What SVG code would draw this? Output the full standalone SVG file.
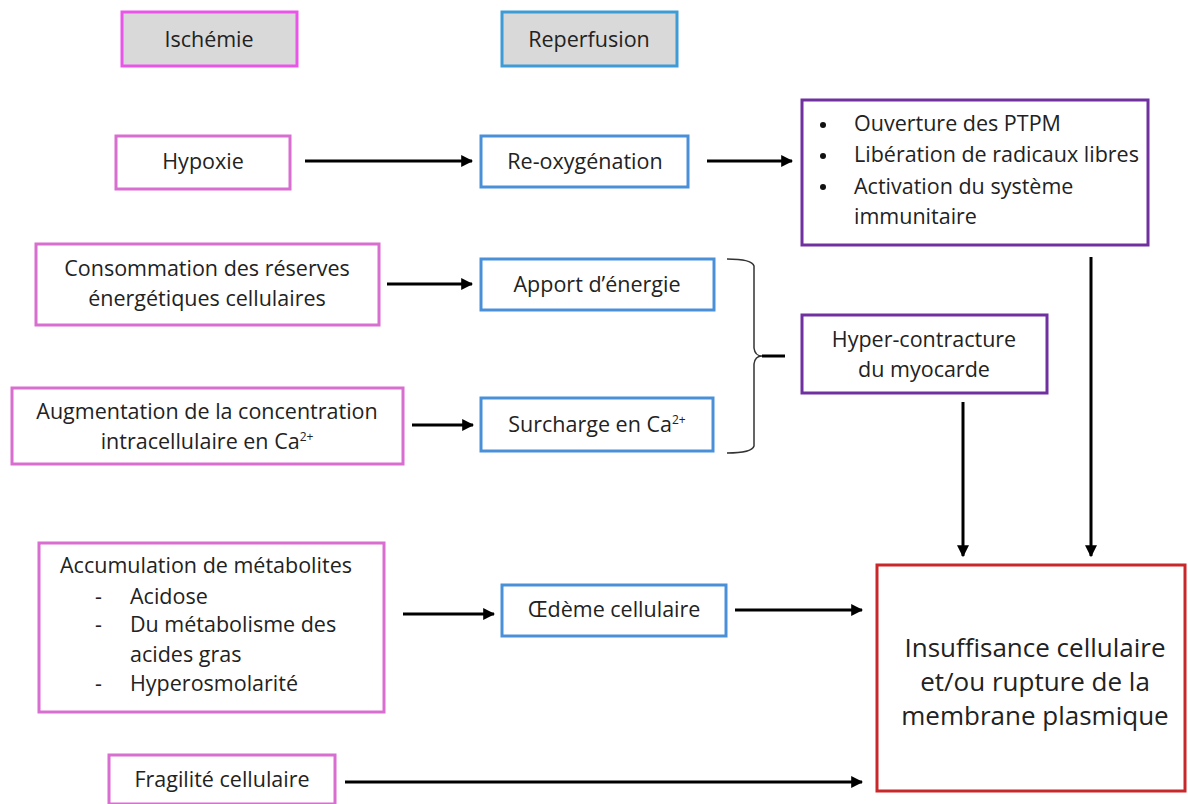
<svg xmlns="http://www.w3.org/2000/svg" width="1188" height="804" viewBox="0 0 1188 804">
<defs>
<marker id="ah" viewBox="0 0 10 10" refX="9" refY="5" markerWidth="4" markerHeight="4" orient="auto" markerUnits="strokeWidth">
<path d="M0,0 L10,5 L0,10 z" fill="#000"/>
</marker>
<style>
text{font-family:"Open Sans","Liberation Sans",sans-serif;font-size:21.5px;fill:#222}
.c{text-anchor:middle}
.big{font-size:26px}
.isch{fill:#fff;stroke:#d86fd0;stroke-width:3}
.rep{fill:#fff;stroke:#4a90d9;stroke-width:3}
.pur{fill:#fff;stroke:#7030a0;stroke-width:3}
.red{fill:#fff;stroke:#c8282a;stroke-width:3}
.hdr{fill:#d9d9d9}
.conn line{stroke:#000;stroke-width:3}
.conn .a{marker-end:url(#ah)}
</style>
</defs>
<rect width="1188" height="804" fill="#fff"/>

<g id="ischemie"><rect class="hdr" x="122" y="12" width="175" height="54" stroke="#e955e9" stroke-width="3"/><text class="c" x="209" y="47">Ischémie</text></g>
<g id="reperfusion"><rect class="hdr" x="502" y="12" width="175" height="54" stroke="#3d9bd6" stroke-width="3"/><text class="c" x="589" y="47">Reperfusion</text></g>

<g id="hypoxie"><rect class="isch" x="116" y="136" width="174" height="53"/><text class="c" x="203" y="169">Hypoxie</text></g>
<g id="reoxygenation"><rect class="rep" x="481" y="136" width="207" height="51"/><text class="c" x="585" y="169">Re-oxygénation</text></g>
<g id="effets"><rect class="pur" x="802" y="100" width="346" height="145"/>
<circle cx="823" cy="125" r="3" fill="#111"/><circle cx="823" cy="156" r="3" fill="#111"/><circle cx="823" cy="187" r="3" fill="#111"/>
<text x="854" y="131">Ouverture des PTPM</text>
<text x="854" y="162">Libération de radicaux libres</text>
<text x="854" y="194">Activation du système</text>
<text x="854" y="224">immunitaire</text></g>

<g id="consommation"><rect class="isch" x="36" y="244" width="343" height="81"/><text class="c" x="207" y="276">Consommation des réserves</text><text class="c" x="207" y="306">énergétiques cellulaires</text></g>
<g id="apport"><rect class="rep" x="481" y="259" width="233" height="51"/><text class="c" x="597" y="292">Apport d’énergie</text></g>
<g id="augmentation"><rect class="isch" x="12" y="388" width="391" height="76"/><text class="c" x="207" y="419">Augmentation de la concentration</text><text class="c" x="207" y="449">intracellulaire en Ca<tspan font-size="12" dy="-8">2+</tspan></text></g>
<g id="surcharge"><rect class="rep" x="481" y="398" width="232" height="53"/><text class="c" x="597" y="432">Surcharge en Ca<tspan font-size="12" dy="-8">2+</tspan></text></g>
<g id="hypercontracture"><rect class="pur" x="802" y="315" width="245" height="78"/><text class="c" x="924" y="347">Hyper-contracture</text><text class="c" x="924" y="377">du myocarde</text></g>

<g id="accumulation"><rect class="isch" x="39" y="543" width="345" height="169"/>
<text x="60" y="573">Accumulation de métabolites</text>
<text x="95" y="604">-</text><text x="130" y="604">Acidose</text>
<text x="95" y="632">-</text><text x="130" y="632">Du métabolisme des</text>
<text x="130" y="662">acides gras</text>
<text x="95" y="691">-</text><text x="130" y="691">Hyperosmolarité</text></g>
<g id="oedeme"><rect class="rep" x="502" y="585" width="224" height="51"/><text class="c" x="614" y="617">Œdème cellulaire</text></g>
<g id="fragilite"><rect class="isch" x="109" y="755" width="226" height="49"/><text class="c" x="222" y="787">Fragilité cellulaire</text></g>
<g id="insuffisance"><rect class="red" x="877" y="565" width="308" height="226"/>
<text class="c big" x="1035" y="657">Insuffisance cellulaire</text>
<text class="c big" x="1035" y="691">et/ou rupture de la</text>
<text class="c big" x="1035" y="725">membrane plasmique</text></g>

<g id="connectors" class="conn">
<line class="a" x1="305" y1="161" x2="472" y2="161"/>
<line class="a" x1="707" y1="161" x2="792" y2="161"/>
<line class="a" x1="387" y1="284" x2="472" y2="284"/>
<line class="a" x1="412" y1="425" x2="473" y2="425"/>
<line class="a" x1="403" y1="614" x2="494" y2="614"/>
<line class="a" x1="735" y1="610" x2="862" y2="610"/>
<line class="a" x1="345" y1="782" x2="862" y2="782"/>
<line class="a" x1="963" y1="402" x2="963" y2="556"/>
<line class="a" x1="1091" y1="257" x2="1091" y2="556"/>
<path d="M727,259 Q752,259 754,266 L754,348 Q755,356 762,356 Q755,356 754,364 L754,446 Q752,453 727,453" fill="none" stroke="#333" stroke-width="1.5"/>
<line x1="762" y1="356" x2="785" y2="356"/>
</g>
</svg>
